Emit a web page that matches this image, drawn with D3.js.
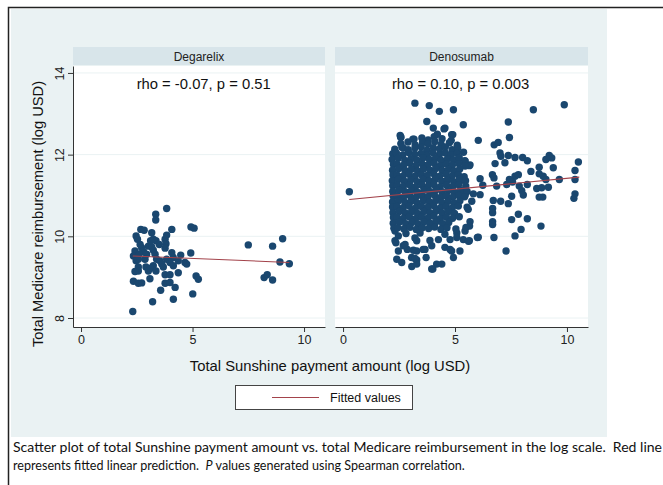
<!DOCTYPE html>
<meta charset="utf-8">
<style>body{margin:0;background:#fff}</style>
<div id="chart"></div>
<script src="https://d3js.org/d3.v7.min.js"></script>
<script>
// panel names, annotations, ticks
var panels = ["Degarelix", "Denosumab"];
var stats = ["rho = -0.07, p = 0.51", "rho = 0.10, p = 0.003"];
var statPos = [[5.5, 13.72], [5.25, 13.72]];
var xTicks = [0, 5, 10];
var yTicks = [8, 10, 12, 14];

// [sunshine log USD, medicare log USD]
var degarelix = [
  [3.84,10.68],[3.35,10.54],[3.35,10.40],[2.68,10.17],[2.83,10.15],[3.17,10.09],[4.07,10.17],[4.93,10.23],[5.07,10.20],
  [2.47,10.01],[2.53,9.93],[3.24,9.93],[3.36,9.89],[3.77,9.93],[3.81,9.82],[3.02,9.76],[2.72,9.72],[3.17,9.74],
  [2.42,9.64],[2.80,9.63],[3.24,9.66],[3.77,9.71],[2.35,9.52],[2.61,9.56],[2.94,9.56],[3.32,9.56],[4.07,9.60],
  [4.14,9.48],[4.47,9.54],[4.92,9.59],[2.47,9.40],[2.87,9.44],[3.54,9.40],[3.84,9.44],[3.99,9.36],[4.66,9.36],
  [4.74,9.32],[2.57,9.25],[2.91,9.25],[3.24,9.28],[3.62,9.32],[4.14,9.28],[2.57,9.15],[3.02,9.15],[3.12,9.22],
  [3.77,9.06],[3.99,9.06],[4.36,9.11],[5.16,9.03],[5.26,8.95],[2.35,8.90],[2.57,8.85],[2.72,8.86],[3.09,8.96],
  [3.77,8.85],[3.99,8.87],[4.22,8.75],[3.57,8.68],[5.01,8.59],[4.14,8.46],[3.21,8.40],[2.32,8.16],
  [7.50,9.79],[8.59,9.76],[9.04,9.94],[8.92,9.37],[9.34,9.33],[8.21,8.99],[8.35,9.06],[8.59,8.93],
  [2.65,9.80],[3.51,9.80],[2.57,9.44],[3.39,9.44],[3.69,9.25],[2.42,9.14],[4.36,9.40],[3.36,9.15],[3.84,10.03],[3.12,9.89]
];

var denosumab = [
  // outliers above and beside the cloud
  [0.28,11.09],[3.21,13.26],[3.85,13.20],[4.30,13.06],[4.93,13.10],[3.74,12.81],[4.03,12.65],[4.51,12.63],[4.21,12.50],
  [2.58,12.42],[2.55,12.47],[3.17,12.38],[4.85,12.49],[2.69,12.16],[4.55,12.65],[4.90,12.49],[5.37,12.73],
  [8.50,13.10],[9.88,13.22],[7.38,12.80],[6.04,12.35],[7.43,12.42],[6.75,12.24],[6.93,12.30],
  [7.01,12.04],[7.05,11.96],[7.38,11.98],[7.68,11.93],[8.02,11.93],[8.23,11.85],[6.79,11.78],[7.23,11.80],
  [9.21,11.98],[9.32,11.92],[9.06,11.88],[10.51,11.82],[8.76,11.69],[9.39,11.68],[8.39,11.59],[10.36,11.61],
  [6.67,11.51],[6.74,11.43],[6.12,11.41],[7.68,11.47],[7.83,11.51],[7.43,11.39],[7.57,11.33],[8.76,11.53],
  [8.94,11.47],[9.06,11.39],[9.66,11.39],[10.36,11.39],[6.24,11.25],[6.86,11.23],[7.31,11.27],[7.87,11.23],
  [8.23,11.27],[7.98,11.12],[8.65,11.17],[8.87,11.19],[9.17,11.20],[5.82,11.04],[6.12,11.02],[7.53,10.98],
  [8.05,11.01],[8.76,10.96],[8.92,10.96],[10.36,11.04],[10.31,10.93],[6.71,10.88],[7.04,10.86],[7.38,10.80],
  [6.68,10.68],[6.68,10.58],[6.68,10.36],[6.68,10.29],[7.83,10.54],[7.53,10.41],[8.23,10.43],[7.95,10.17],
  [8.84,10.25],[7.68,10.01],[6.74,9.97],[6.00,9.97],[7.28,9.64],[6.04,9.98],
  [5.45,11.84],[5.67,11.75],[5.64,11.73],[5.22,11.35],[5.75,10.86],[5.46,11.02],[5.59,10.66],[5.67,10.36],
  [5.64,9.89],[5.45,10.13],[5.22,9.64],[4.93,9.48],[5.65,10.25],
  // lower tail
  [2.32,10.13],[2.47,10.01],[2.81,10.07],[3.21,9.96],[3.44,10.08],[3.88,9.90],[4.26,9.92],[4.78,9.92],[5.37,9.92],
  [5.60,9.88],[5.08,10.08],[2.36,9.84],[2.69,9.77],[2.47,9.64],[2.87,9.68],[3.29,9.64],[3.66,9.68],[3.96,9.77],
  [4.55,9.73],[4.85,9.64],[2.40,9.44],[3.06,9.48],[3.29,9.42],[3.71,9.48],[3.07,9.26],[3.29,9.32],[4.01,9.20],
  [4.18,9.32],[4.41,9.32],[2.62,9.36],[2.32,9.89],[2.77,9.80],[3.29,9.89],[4.55,10.05],[5.08,9.97],[3.14,9.66],
  [3.58,9.68],[4.78,9.68],[3.21,9.46],[3.96,9.20],
  // main cloud
  [2.58,12.43],[3.12,12.38],[3.52,12.41],[3.80,12.36],[4.07,12.44],[4.42,12.39],[4.83,12.35],
  [2.58,12.27],[2.90,12.31],[3.22,12.24],[3.55,12.30],[3.80,12.26],[4.10,12.32],[4.38,12.25],[4.75,12.29],[5.10,12.23],
  [2.31,12.13],[2.63,12.18],[2.91,12.12],[3.21,12.16],[3.49,12.19],[3.74,12.11],[4.03,12.17],[4.31,12.14],[4.57,12.19],[4.87,12.12],[5.12,12.16],
  [2.22,12.02],[2.38,12.04],[2.67,11.99],[2.93,12.05],[3.20,12.01],[3.48,12.03],[3.75,11.98],[4.01,12.05],[4.30,12.00],[4.57,12.04],[4.83,11.99],[5.10,12.03],[5.38,12.06],
  [2.19,11.88],[2.47,11.92],[2.76,11.86],[3.03,11.90],[3.29,11.87],[3.57,11.92],[3.86,11.88],[4.13,11.91],[4.39,11.86],[4.67,11.90],[4.93,11.87],[5.19,11.92],[5.44,11.85],
  [2.25,11.76],[2.41,11.77],[2.70,11.74],[2.98,11.79],[3.25,11.73],[3.52,11.78],[3.78,11.75],[4.07,11.79],[4.35,11.73],[4.62,11.77],[4.88,11.74],[5.17,11.78],[5.45,11.72],
  [2.21,11.62],[2.49,11.66],[2.77,11.61],[3.05,11.64],[3.33,11.60],[3.59,11.65],[3.88,11.62],[4.14,11.66],[4.43,11.61],[4.71,11.64],[4.96,11.60],[5.21,11.65],
  [2.23,11.50],[2.40,11.51],[2.68,11.48],[2.95,11.52],[3.21,11.47],[3.50,11.51],[3.76,11.49],[4.05,11.53],[4.31,11.47],[4.60,11.52],[4.87,11.48],[5.15,11.51],[5.41,11.46],
  [2.20,11.36],[2.47,11.39],[2.74,11.35],[3.02,11.38],[3.31,11.34],[3.57,11.39],[3.84,11.36],[4.12,11.40],[4.41,11.35],[4.66,11.38],[4.94,11.34],[5.19,11.39],[5.47,11.36],
  [2.22,11.24],[2.42,11.25],[2.69,11.22],[2.97,11.26],[3.23,11.21],[3.52,11.25],[3.80,11.23],[4.06,11.27],[4.33,11.21],[4.62,11.25],[4.90,11.22],[5.16,11.26],[5.48,11.23],
  [2.22,11.10],[2.50,11.13],[2.77,11.09],[3.05,11.12],[3.32,11.08],[3.61,11.13],[3.87,11.10],[4.15,11.14],[4.42,11.09],[4.70,11.12],[4.97,11.08],[5.25,11.13],[5.54,11.10],
  [2.24,10.98],[2.43,10.99],[2.70,10.96],[2.98,11.00],[3.24,10.95],[3.53,10.99],[3.79,10.97],[4.08,11.01],[4.35,10.95],[4.62,10.99],[4.90,10.96],[5.17,11.00],[5.43,10.97],
  [2.21,10.84],[2.48,10.87],[2.77,10.83],[3.04,10.86],[3.31,10.82],[3.59,10.87],[3.86,10.84],[4.14,10.88],[4.41,10.83],[4.69,10.86],[4.96,10.82],[5.22,10.87],
  [2.21,10.72],[2.40,10.73],[2.68,10.70],[2.95,10.74],[3.23,10.69],[3.50,10.73],[3.78,10.71],[4.05,10.75],[4.33,10.69],[4.60,10.73],[4.88,10.70],[5.15,10.74],[5.54,10.71],
  [2.23,10.58],[2.51,10.61],[2.78,10.57],[3.06,10.60],[3.33,10.56],[3.61,10.61],[3.88,10.58],[4.16,10.62],[4.43,10.57],[4.71,10.60],[4.98,10.56],
  [2.25,10.46],[2.41,10.47],[2.69,10.44],[2.96,10.48],[3.24,10.43],[3.51,10.47],[3.79,10.45],[4.06,10.49],[4.34,10.43],[4.61,10.47],[4.89,10.44],[5.19,10.48],
  [2.24,10.32],[2.52,10.35],[2.80,10.31],[3.07,10.34],[3.35,10.30],[3.62,10.35],[3.90,10.32],[4.17,10.36],[4.45,10.31],[4.72,10.34],
  [2.27,10.20],[2.44,10.21],[2.72,10.18],[2.99,10.22],[3.27,10.17],[3.54,10.21],[3.82,10.19],[4.09,10.23],[4.37,10.17],[4.64,10.21],[5.04,10.18],[5.49,10.22]
];

// fitted linear prediction end points
var fitDegarelix = [[2.32, 9.52], [9.34, 9.36]];
var fitDenosumab = [[0.28, 10.90], [10.55, 11.45]];

var W = 663, H = 485;
var navy = "#1a476f", maroon = "#a3434b";
var font = "'Liberation Sans', Arial, sans-serif";

var svg = d3.select("#chart").append("svg").attr("width", W).attr("height", H)
  .style("font-family", font);

svg.append("rect").attr("width", W).attr("height", H).attr("fill", "#fff");
// graph region
svg.append("rect").attr("x", 11).attr("y", 9).attr("width", 596).attr("height", 428).attr("fill", "#eaf2f3");
// frame
svg.append("path").attr("d", "M8.5,485V7.5H663").attr("fill", "none").attr("stroke", "#222").attr("stroke-width", 1.5);

var y = d3.scaleLinear().domain([7.78, 14.17]).range([327, 66]);
var xRanges = [[73, 325], [335, 588]];
var data = [degarelix, denosumab];
var fits = [fitDegarelix, fitDenosumab];

panels.forEach(function(name, i) {
  var x = d3.scaleLinear().domain([-0.36, 10.94]).range(xRanges[i]);
  var g = svg.append("g");
  var x0 = xRanges[i][0], x1 = xRanges[i][1];

  g.append("rect").attr("x", x0).attr("y", 47).attr("width", x1 - x0).attr("height", 18).attr("fill", "#d8e5ea");
  g.append("text").attr("x", (x0 + x1) / 2).attr("y", 60.5).attr("text-anchor", "middle")
    .attr("font-size", 12).attr("fill", "#222").text(name);

  g.append("rect").attr("x", x0).attr("y", 66).attr("width", x1 - x0).attr("height", 261).attr("fill", "#fff");

  g.selectAll(".grid").data(yTicks).enter().append("line")
    .attr("x1", x0).attr("x2", x1).attr("y1", function(d) { return y(d); }).attr("y2", function(d) { return y(d); })
    .attr("stroke", "#eaf2f3").attr("stroke-width", 1);

  g.append("text").attr("x", x(statPos[i][0])).attr("y", y(statPos[i][1]) + 5).attr("text-anchor", "middle")
    .attr("font-size", 14.8).attr("fill", "#111").text(stats[i]);

  g.selectAll(".pt").data(data[i]).enter().append("circle")
    .attr("cx", function(d) { return x(d[0]); }).attr("cy", function(d) { return y(d[1]); })
    .attr("r", 3.7).attr("fill", navy);

  g.append("path").datum(fits[i])
    .attr("d", d3.line().x(function(d) { return x(d[0]); }).y(function(d) { return y(d[1]); }))
    .attr("fill", "none").attr("stroke", maroon).attr("stroke-width", 1.1);

  var ax = g.append("g").attr("transform", "translate(0,327)")
    .call(d3.axisBottom(x).tickValues(xTicks).tickFormat(d3.format("d")).tickSize(5).tickSizeOuter(0).tickPadding(3));
  ax.selectAll("path,line").attr("stroke", "#333");
  ax.selectAll("text").attr("font-size", 12.5).attr("fill", "#222").attr("font-family", font);

  if (i === 0) {
    var ay = g.append("g").attr("transform", "translate(" + x0 + ",0)")
      .call(d3.axisLeft(y).tickValues(yTicks).tickFormat(d3.format("d")).tickSize(5).tickSizeOuter(0));
    ay.selectAll("path,line").attr("stroke", "#333");
    ay.selectAll("text").attr("font-size", 12.5).attr("fill", "#222").attr("font-family", font)
      .attr("transform", "rotate(-90)").attr("x", 0).attr("dy", 0).attr("y", -9)
      .attr("text-anchor", "middle");
  }
});

svg.append("text").attr("transform", "translate(43,214) rotate(-90)").attr("text-anchor", "middle")
  .attr("font-size", 14.7).attr("fill", "#111").text("Total Medicare reimbursement (log USD)");
svg.append("text").attr("x", 330).attr("y", 371).attr("text-anchor", "middle")
  .attr("font-size", 14.8).attr("fill", "#111").text("Total Sunshine payment amount (log USD)");

// legend
var lg = svg.append("g");
lg.append("rect").attr("x", 235.5).attr("y", 385.5).attr("width", 177).attr("height", 24)
  .attr("fill", "#fff").attr("stroke", "#444");
lg.append("line").attr("x1", 272).attr("x2", 319).attr("y1", 397.5).attr("y2", 397.5).attr("stroke", maroon).attr("stroke-width", 1.1);
lg.append("text").attr("x", 330).attr("y", 402).attr("font-size", 12.5).attr("fill", "#111").text("Fitted values");

// caption
var capFont = "Lato, 'Open Sans', sans-serif";
svg.append("text").attr("x", 13).attr("y", 452).attr("xml:space", "preserve").style("white-space", "pre")
  .style("font-family", capFont).attr("font-size", 13.2).attr("fill", "#111")
  .attr("textLength", 649).attr("lengthAdjust", "spacingAndGlyphs")
  .text("Scatter plot of total Sunshine payment amount vs. total Medicare reimbursement in the log scale.  Red line");

// second line: three pieces laid side by side, then squeezed to the reference width
var line2 = svg.append("g");
var parts = [["represents fitted linear prediction.  ", "normal"], ["P", "italic"], [" values generated using Spearman correlation.", "normal"]];
var cx = 0;
parts.forEach(function(p) {
  var t = line2.append("text").attr("x", cx).attr("y", 0).attr("xml:space", "preserve").style("white-space", "pre")
    .style("font-family", capFont).attr("font-size", 13.2).attr("fill", "#111").attr("font-style", p[1]).text(p[0]);
  cx += t.node().getComputedTextLength();
});
line2.attr("transform", "translate(13,470) scale(" + (452 / cx) + ",1)");
</script>
